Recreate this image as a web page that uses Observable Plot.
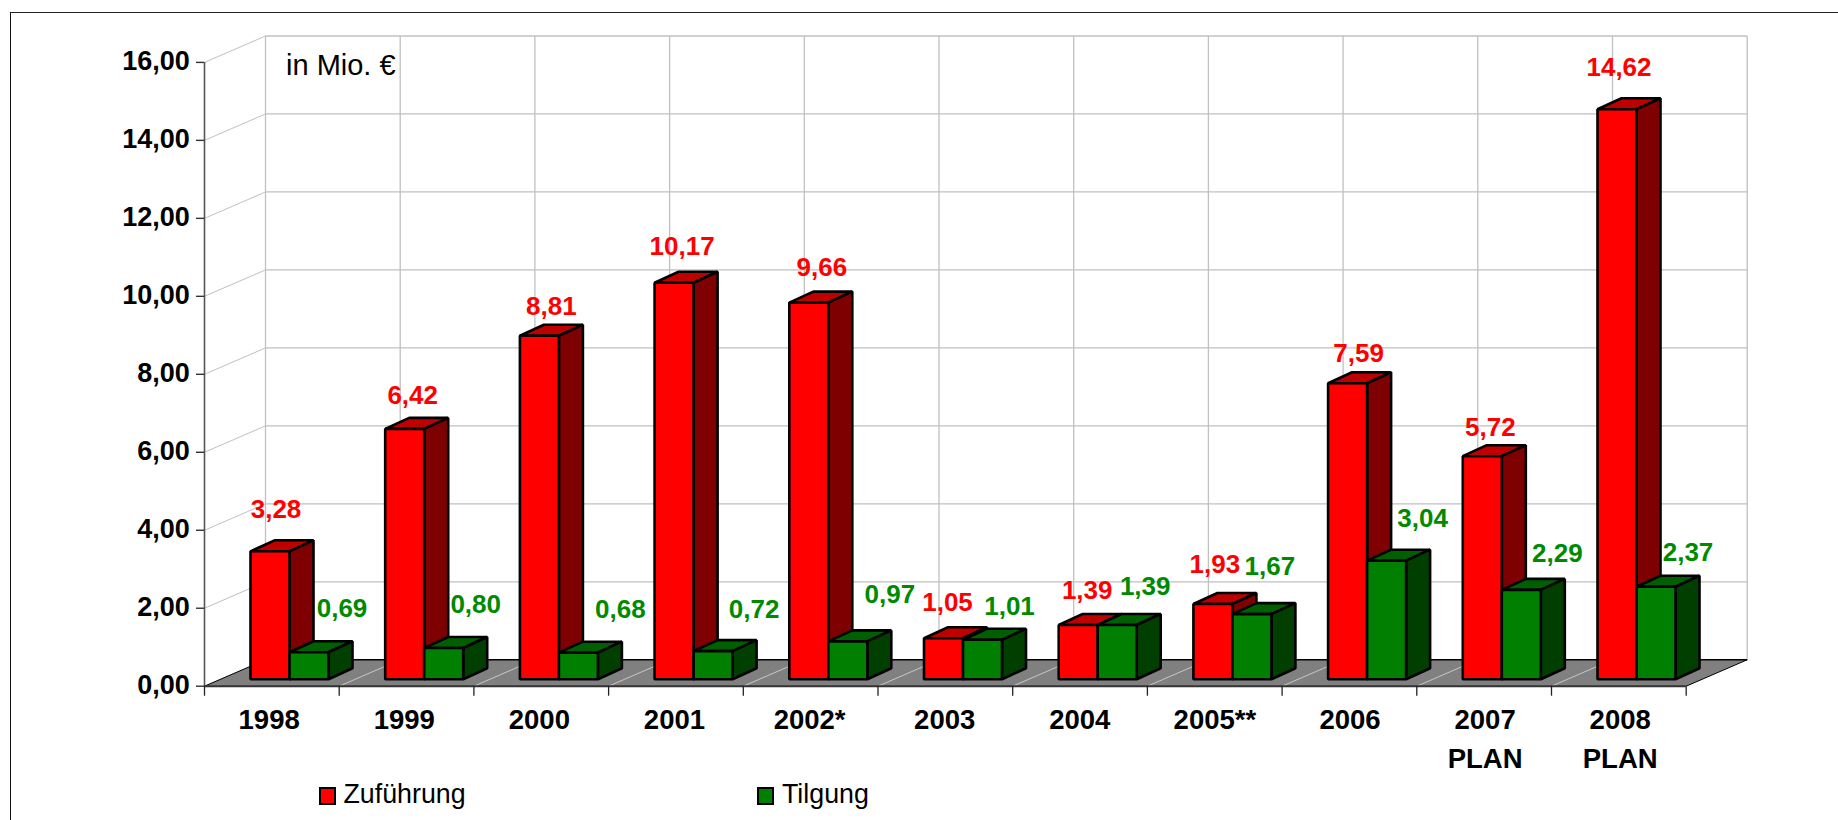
<!DOCTYPE html>
<html lang="de">
<head>
<meta charset="utf-8">
<script src="https://cdn.jsdelivr.net/npm/d3@7"></script>
<script src="https://cdn.jsdelivr.net/npm/@observablehq/plot@0.6"></script>
<style>
  html,body{margin:0;padding:0;background:#fff;width:1838px;height:820px;overflow:hidden;font-family:"Liberation Sans",Arial,sans-serif}
  #wrap{position:relative;width:1838px;height:820px}
  #wrap svg{position:absolute;left:0;top:0;background:transparent}
  #frame{position:absolute;left:10px;top:11.5px;right:0;bottom:0;border-left:1.6px solid #111;border-top:1.6px solid #222}
  .lg{position:absolute;font-size:26.8px;line-height:30px;color:#000;white-space:nowrap}
  .sw{position:absolute;box-sizing:border-box;width:17px;height:18.5px;border:2px solid #000}
</style>
</head>
<body>
<div id="wrap"><div id="frame"></div></div>
<script>
// ---- data ----
const years = ["1998","1999","2000","2001","2002*","2003","2004","2005**","2006","2007\nPLAN","2008\nPLAN"];
const zufuehrung = [3.28,6.42,8.81,10.17,9.66,1.05,1.39,1.93,7.59,5.72,14.62];
const tilgung    = [0.69,0.80,0.68,0.72,0.97,1.01,1.39,1.67,3.04,2.29,2.37];
const yTicks = [0,2,4,6,8,10,12,14,16];
const seriesNames = ["Zuführung","Tilgung"];

// hand-placed label offsets from the top-centre of each bar's front face, in px as in the original
const redNudgeX   = [6,8,12,8,13,4,9,2,11,8,2];
const redNudgeY   = [-42,-33,-29,-36,-35,-36,-34,-39,-30,-29,-42];
const greenNudgeX = [33,32,42,41,42,27,28,18,36,36,32];
const greenNudgeY = [-44,-43,-43,-41,-47,-33,-38,-47,-42,-36,-34];

// ---- faux-3D geometry, in scale units (categories, values) ----
const n = years.length;
const pxPerCat = 134.7, pxPerVal = 38.98;
const wallDX = 61/pxPerCat, wallDY = 26.4/pxPerVal;     // depth of the chart box
const barDX = 24/pxPerCat,  barDY = 11/pxPerVal;        // depth of a bar
const barStart = 46/pxPerCat, barW = 39/pxPerCat;       // front-face placement in a category
const barBase = 7/pxPerVal;                             // front-face baseline above the box floor edge

const palette = {
  red:{front:"#ff0000",top:"#bf0000",side:"#7f0000",label:"#ff0000"},
  green:{front:"#007f00",top:"#005f00",side:"#003f00",label:"#008a00"}
};

const faces = [];
function addBar(id,x0,v,c){
  const x1=x0+barW, b=barBase, t=barBase+v;
  const poly=(k,col,pts)=>pts.forEach(([x,y])=>faces.push({id:id+k,x,y,color:col}));
  poly("t",c.top,[[x0,t],[x1,t],[x1+barDX,t+barDY],[x0+barDX,t+barDY]]);
  poly("s",c.side,[[x1,b],[x1+barDX,b+barDY],[x1+barDX,t+barDY],[x1,t]]);
  poly("f",c.front,[[x0,b],[x1,b],[x1,t],[x0,t]]);
}
years.forEach((_,i)=>{
  addBar("r"+i,i+barStart,zufuehrung[i],palette.red);
  addBar("g"+i,i+barStart+barW,tilgung[i],palette.green);
});

const floor = [[0,0],[n,0],[n+wallDX,wallDY],[wallDX,wallDY]].map(([x,y])=>({x,y}));
const cats = d3.range(n+1);
const fmt = v => v.toFixed(2).replace(".",",");
const labelsFor = (vals,off,nx,ny) => vals.map((v,i)=>({
  x:i+off+barW/2+nx[i]/pxPerCat, y:barBase+v-ny[i]/pxPerVal, t:fmt(v)
}));
const grid = "#c0c0c0";
const font = {fontFamily:"Liberation Sans, Arial, sans-serif"};

const plot = Plot.plot({
  width:1838, height:820,
  marginLeft:204, marginRight:91.3, marginTop:35.5, marginBottom:134.3,
  style:{background:"transparent",overflow:"visible"},
  x:{domain:[0,n+wallDX],axis:null},
  y:{domain:[0,16+wallDY],axis:null},
  color:{type:"identity"},
  marks:[
    // side wall and back wall grid
    Plot.link(yTicks,{x1:0,y1:d=>d,x2:wallDX,y2:d=>d+wallDY,stroke:grid,strokeWidth:1}),
    Plot.link(yTicks,{x1:wallDX,y1:d=>d+wallDY,x2:n+wallDX,y2:d=>d+wallDY,stroke:grid,strokeWidth:1.3}),
    Plot.link(cats,{x1:d=>d+wallDX,y1:wallDY,x2:d=>d+wallDX,y2:16+wallDY,stroke:grid,strokeWidth:1.3}),
    // floor
    Plot.line(floor,{x:"x",y:"y",curve:"linear-closed",fill:"#808080",stroke:"none"}),
    Plot.link(cats.slice(1,-1),{x1:d=>d,y1:0,x2:d=>d+wallDX,y2:wallDY,stroke:"#c8c8c8",strokeWidth:1}),
    Plot.link([wallDY],{x1:wallDX,y1:d=>d,x2:n+wallDX,y2:d=>d,stroke:"#000",strokeWidth:1.4}),
    Plot.link([0],{x1:0,y1:0,x2:wallDX,y2:wallDY,stroke:"#000",strokeWidth:1}),
    Plot.link([0],{x1:n,y1:0,x2:n+wallDX,y2:wallDY,stroke:"#000",strokeWidth:1}),
    // axes
    Plot.ruleX([0],{y1:0,y2:16,stroke:"#555",strokeWidth:1.6}),
    Plot.axisY({ticks:yTicks,tickSize:8,text:null,label:null,stroke:"#333",strokeWidth:1.4}),
    Plot.axisY({ticks:yTicks,tickSize:0,tickPadding:14.7,tickFormat:fmt,label:null,fontSize:27,fontWeight:"bold",fill:"#000",dy:-1,...font}),
    Plot.ruleY([0],{x1:0,x2:n,stroke:"#333",strokeWidth:2}),
    Plot.axisX({ticks:cats,tickSize:10,text:null,label:null,stroke:"#222",strokeWidth:1.3}),
    Plot.text(years,{x:(d,i)=>i*1.003+0.48,y:0,text:d=>d,lineAnchor:"top",lineHeight:1.42,dy:15.5,fontSize:27.5,fontWeight:"bold",fill:"#000",...font}),
    // bars
    Plot.line(faces,{x:"x",y:"y",z:"id",fill:"color",stroke:"#000",strokeWidth:2.6,strokeLinejoin:"miter",curve:"linear-closed"}),
    // value labels
    Plot.text(labelsFor(zufuehrung,barStart,redNudgeX,redNudgeY),{x:"x",y:"y",text:"t",fontSize:26,fontWeight:"bold",fill:palette.red.label,...font}),
    Plot.text(labelsFor(tilgung,barStart+barW,greenNudgeX,greenNudgeY),{x:"x",y:"y",text:"t",fontSize:26,fontWeight:"bold",fill:palette.green.label,...font}),
    // unit note
    Plot.text(["in Mio. €"],{x:81.5/pxPerCat,y:(685.7-75)/pxPerVal,text:d=>d,textAnchor:"start",lineAnchor:"bottom",fontSize:29,fill:"#000",...font})
  ]
});
const wrap = document.getElementById("wrap");
wrap.appendChild(plot);

// legend
const legendPlaces = [{sw:319,tx:343.5,col:palette.red.front},{sw:757,tx:782,col:palette.green.front}];
seriesNames.forEach((name,i)=>{
  const p=legendPlaces[i];
  const s=document.createElement("div"); s.className="sw";
  s.style.left=p.sw+"px"; s.style.top="786.5px"; s.style.background=p.col; wrap.appendChild(s);
  const t=document.createElement("div"); t.className="lg"; t.textContent=name;
  t.style.left=p.tx+"px"; t.style.top="779px"; wrap.appendChild(t);
});
</script>
</body>
</html>
